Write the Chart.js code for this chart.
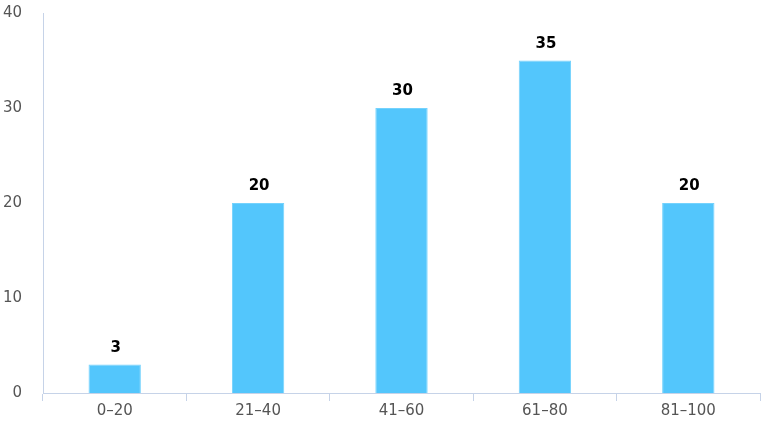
<!DOCTYPE html>
<html>
<head>
<meta charset="utf-8">
<script src="https://cdn.jsdelivr.net/npm/chart.js@4.4.1/dist/chart.umd.min.js"></script>
<style>
  html, body { margin: 0; padding: 0; background: #fff; }
  #wrap { width: 765px; height: 425px; }
</style>
</head>
<body>
<div id="wrap"><canvas id="scoreChart"></canvas></div>
<script>
// Dữ liệu
const categories = ['0–20', '21–40', '41–60', '61–80', '81–100'];
const counts = [3, 20, 30, 35, 20];
const yTicks = [0, 10, 20, 30, 40];

// Nhãn giá trị trên đầu cột
const valueLabels = {
    id: 'valueLabels',
    afterDatasetsDraw(chart) {
        const ctx = chart.ctx;
        const meta = chart.getDatasetMeta(0);
        ctx.save();
        ctx.font = 'bold 15px "DejaVu Sans", sans-serif';
        ctx.fillStyle = '#000';
        ctx.textAlign = 'center';
        ctx.textBaseline = 'alphabetic';
        meta.data.forEach((bar, i) => {
            ctx.fillText(chart.data.datasets[0].data[i], bar.x + 1, bar.y - 13);
        });
        ctx.restore();
    }
};

const ctx = document.getElementById('scoreChart').getContext('2d');
const chart = new Chart(ctx, {
    type: 'bar',
    data: {
        labels: categories,
        datasets: [{
            data: counts,
            backgroundColor: '#53C6FC',
            borderColor: '#74D2FD',
            borderWidth: 1,
            barPercentage: 0.365,
            categoryPercentage: 1
        }]
    },
    options: {
        responsive: true,
        maintainAspectRatio: false,
        animation: false,
        layout: { padding: { top: 13, right: 5, left: 0, bottom: 0 } },
        plugins: {
            legend: { display: false },
            tooltip: { enabled: false }
        },
        scales: {
            x: {
                grid: {
                    offset: true,
                    drawOnChartArea: false,
                    drawTicks: true,
                    tickLength: 8,
                    color: '#c6d3e8'
                },
                border: { display: true, color: '#c6d3e8' },
                ticks: {
                    color: '#555',
                    font: { size: 15, family: '"DejaVu Sans", sans-serif' },
                    padding: 1
                },
                afterFit(scale) { scale.height = 32; }
            },
            y: {
                min: 0,
                max: 40,
                afterBuildTicks(scale) {
                    scale.ticks = yTicks.map(v => ({ value: v }));
                },
                grid: { display: false, drawTicks: false },
                border: { display: true, color: '#c6d3e8' },
                ticks: {
                    color: '#555',
                    font: { size: 15, family: '"DejaVu Sans", sans-serif' },
                    padding: 21
                },
                afterFit(scale) {
                    scale.width = 43;
                    scale.paddingTop = 0;
                    scale.paddingBottom = 0;
                }
            }
        }
    },
    plugins: [valueLabels]
});
</script>
</body>
</html>
